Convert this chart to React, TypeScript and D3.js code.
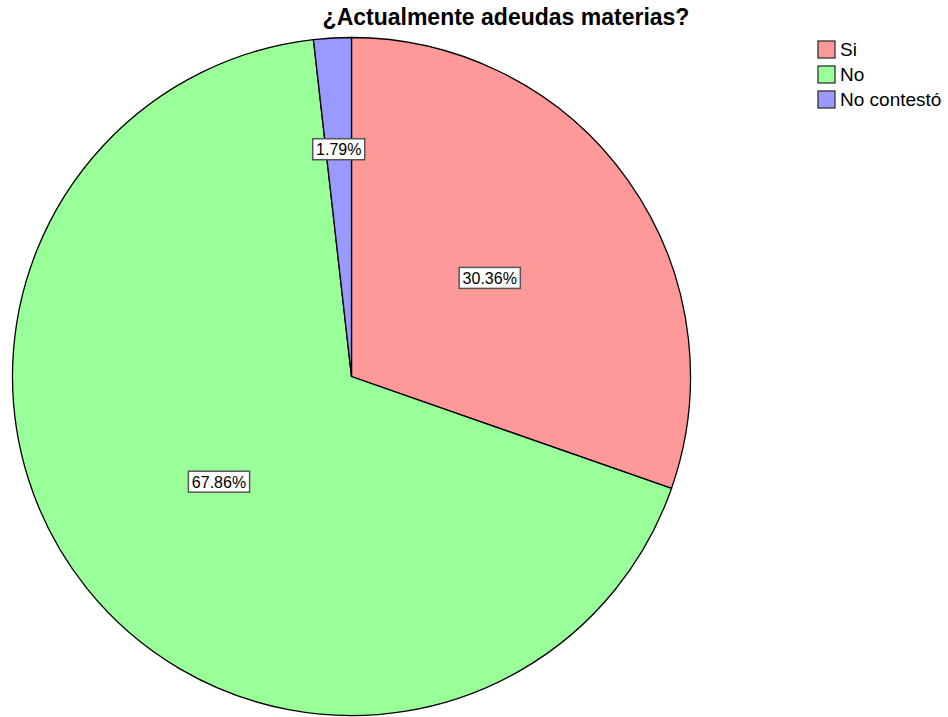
import React from "react";
import * as d3 from "d3";

const categories = ["Si", "No", "No contestó"];
const values = [30.36, 67.86, 1.79];
const colors = ["#ff9999", "#99ff99", "#9999ff"];
const title = "¿Actualmente adeudas materias?";

export default function App() {
  const width = 948;
  const height = 717;
  const cx = 351.5;
  const cy = 376.5;
  const r = 339;
  const pie = d3.pie<number>().sort(null).value((d) => d)(values);
  const arc = d3.arc<d3.PieArcDatum<number>>().innerRadius(0).outerRadius(r);
  const fmt = (v: number) => v.toFixed(2) + "%";
  return (
    <svg
      width={width}
      height={height}
      style={{ position: "absolute", left: 0, top: 0, background: "#fff" }}
      fontFamily="'Liberation Sans', Arial, sans-serif"
    >
      <text x={506} y={25} textAnchor="middle" fontSize={23} fontWeight="bold" fill="#000">
        {title}
      </text>
      <g transform={`translate(${cx},${cy})`}>
        {pie.map((p, i) => (
          <path key={i} d={arc(p) || ""} fill={colors[i]} stroke="#000" strokeWidth={1.3} />
        ))}
        {pie.map((p, i) => {
          const mid = (p.startAngle + p.endAngle) / 2;
          const frac = p.value < 5 ? 0.67 : 0.5;
          const lx = Math.sin(mid) * r * frac;
          const ly = -Math.cos(mid) * r * frac;
          const label = fmt(p.value);
          const w = label.length * 9.2 + 6;
          return (
            <g key={"l" + i} transform={`translate(${lx},${ly})`}>
              <rect x={-w / 2} y={-11} width={w} height={21} fill="#fff" stroke="#555" strokeWidth={1.5} />
              <text x={0} y={5.5} textAnchor="middle" fontSize={16} fill="#000">
                {label}
              </text>
            </g>
          );
        })}
      </g>
      <g>
        {categories.map((c, i) => (
          <g key={c} transform={`translate(818,${41 + i * 25})`}>
            <rect x={0} y={0} width={17} height={17} fill={colors[i]} stroke="#333" strokeWidth={1.3} />
            <text x={22} y={15} fontSize={19} fill="#000">
              {c}
            </text>
          </g>
        ))}
      </g>
    </svg>
  );
}
